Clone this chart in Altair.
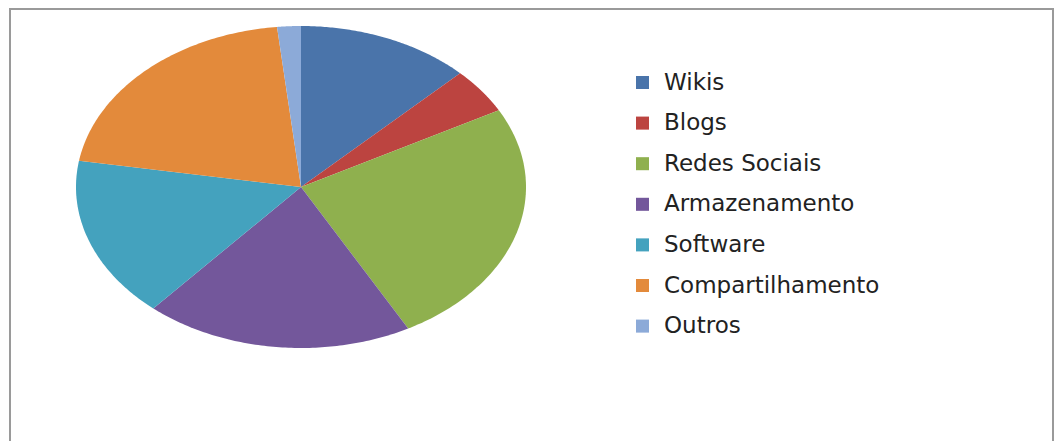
import altair as alt
import pandas as pd

categories = ["Wikis", "Blogs", "Redes Sociais", "Armazenamento", "Software", "Compartilhamento", "Outros"]
values = [12.5, 4.6, 25.0, 19.3, 16.2, 20.7, 1.7]
colors = ["#4A74AA", "#BC4440", "#8FB04E", "#73579B", "#44A2BE", "#E38A3B", "#8CAAD8"]

df = pd.DataFrame({"categoria": categories, "valor": values, "ordem": list(range(len(categories)))})

N = 90
base = alt.Chart(df).transform_window(
    cum="sum(valor)", sort=[alt.SortField("ordem")], frame=[None, 0]
).transform_joinaggregate(
    total="sum(valor)"
).transform_calculate(
    a1="datum.cum / datum.total * 2 * PI",
    a0="(datum.cum - datum.valor) / datum.total * 2 * PI",
    passo=f"sequence(0, {N + 2})",
).transform_flatten(
    ["passo"]
).transform_calculate(
    t=f"datum.a0 + (datum.a1 - datum.a0) * (datum.passo - 1) / {N}",
).transform_calculate(
    px="datum.passo == 0 ? 0 : sin(datum.t)",
    py="datum.passo == 0 ? 0 : cos(datum.t)",
)

pie = base.mark_line(filled=True, strokeWidth=0.6, interpolate="linear").encode(
    x=alt.X("px:Q", scale=alt.Scale(domain=[-1, 1], nice=False, zero=False), axis=None),
    y=alt.Y("py:Q", scale=alt.Scale(domain=[-1, 1], nice=False, zero=False), axis=None),
    color=alt.Color(
        "categoria:N",
        scale=alt.Scale(domain=categories, range=colors),
        sort=categories,
        legend=alt.Legend(
            title=None,
            orient="none",
            legendX=555,
            legendY=45,
            symbolType="square",
            symbolSize=170,
            symbolStrokeWidth=0,
            labelFont="DejaVu Sans",
            labelFontSize=23,
            labelColor="#222222",
            labelOffset=10,
            rowPadding=16.6,
            padding=0,
            labelLimit=400,
        ),
    ),
    detail="categoria:N",
    order=alt.Order("passo:Q"),
)

frame = alt.Chart(df).mark_rect(fill=None, stroke="#9a9a9a", strokeWidth=2).encode(
    x=alt.value(-66), x2=alt.value(977), y=alt.value(-17), y2=alt.value(440)
)

chart = alt.layer(frame, pie).properties(
    width=450,
    height=322,
    background="white",
    padding={"left": 76, "top": 26, "right": 529, "bottom": 93},
    autosize=alt.AutoSizeParams(type="none"),
).configure_view(strokeWidth=0, stroke=None)

chart.save("out.html", embed_options={"renderer": "svg", "actions": False})
